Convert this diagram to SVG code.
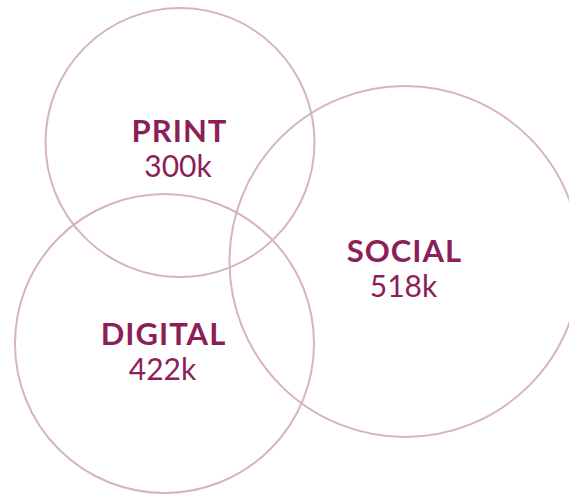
<svg xmlns="http://www.w3.org/2000/svg" width="569" height="494" viewBox="0 0 569 494">
  <style>
    .ring { fill: none; stroke: #d6b3c1; stroke-width: 2; }
    .name { font-family: Lato, "Open Sans", sans-serif; font-weight: 700; font-size: 31px; letter-spacing: 1px; fill: #8c1f57; text-anchor: middle; }
    .value { font-family: Lato, "Open Sans", sans-serif; font-weight: 400; font-size: 30px; fill: #8c1f57; text-anchor: middle; }
  </style>
  <rect width="569" height="494" fill="#ffffff"/>
  <g id="print">
    <circle class="ring" cx="180" cy="142.5" r="134.5"/>
    <text class="name" x="179.5" y="142">PRINT</text>
    <text class="value" x="178" y="177">300k</text>
  </g>
  <g id="social">
    <circle class="ring" cx="405" cy="261.5" r="175.5"/>
    <text class="name" x="404.5" y="262">SOCIAL</text>
    <text class="value" x="403.5" y="297">518k</text>
  </g>
  <g id="digital">
    <circle class="ring" cx="164.5" cy="343.5" r="149.5"/>
    <text class="name" x="163.5" y="345">DIGITAL</text>
    <text class="value" x="162.5" y="380">422k</text>
  </g>
</svg>
